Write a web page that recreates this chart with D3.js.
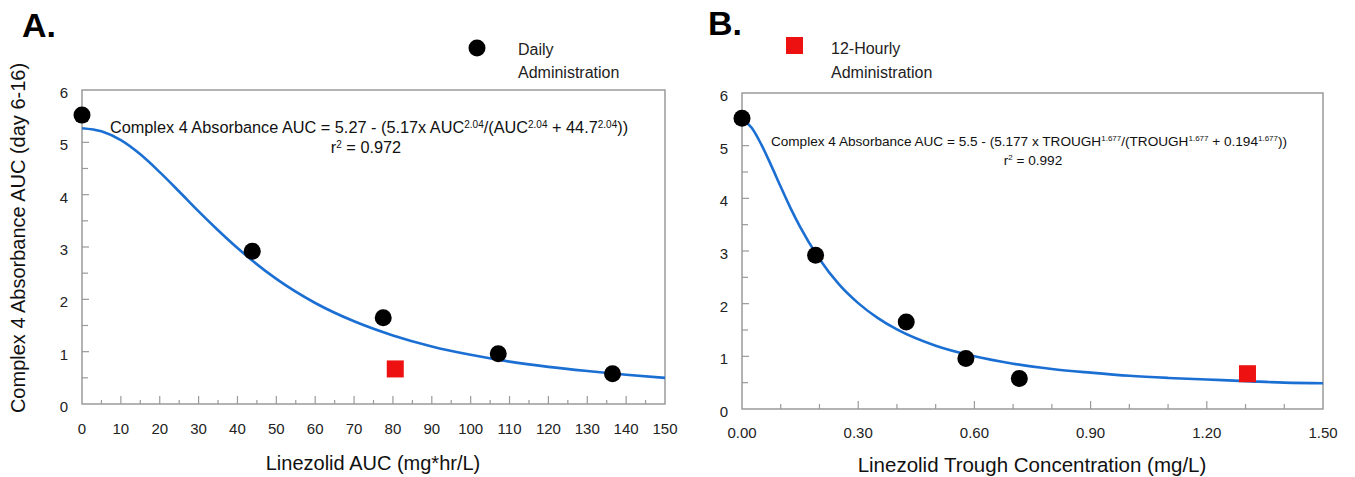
<!DOCTYPE html>
<html>
<head>
<meta charset="utf-8">
<script src="https://cdn.jsdelivr.net/npm/d3@7"></script>
<style>
  body { margin: 0; background: #fff; }
  svg { display: block; font-family: "Liberation Sans", Arial, sans-serif; }
  .tick-label { font-size: 15px; fill: #222; }
  .axis-title { font-size: 20px; fill: #111; }
  .eq-text { fill: #111; }
  .legend-text { font-size: 16px; fill: #222; }
  .panel-letter { font-size: 34px; font-weight: bold; fill: #000; }
</style>
</head>
<body>
<div id="chart"></div>
<script>
// Measured points (same patients in both panels)
var daily_auc = [0, 43.8, 77.5, 107.1, 136.5];
var daily_trough = [0, 0.19, 0.424, 0.578, 0.716];
var daily_c4 = [5.52, 2.92, 1.65, 0.96, 0.58];

var hourly12_auc = [80.6];
var hourly12_trough = [1.305];
var hourly12_c4 = [0.67];

// Fitted curves
var fit_auc_x = [0, 5, 10, 15, 20, 25, 30, 35, 40, 50, 60, 70, 80, 90, 100, 110, 120, 130, 140, 150];
var fit_auc_y = [5.27, 5.21, 5.04, 4.77, 4.43, 4.06, 3.68, 3.32, 2.98, 2.39, 1.93, 1.58, 1.31, 1.10, 0.94, 0.81, 0.71, 0.63, 0.56, 0.50];
var fit_trough_x = [0, 0.025, 0.05, 0.075, 0.1, 0.125, 0.15, 0.2, 0.25, 0.3, 0.35, 0.4, 0.5, 0.6, 0.7, 0.8, 0.9, 1.0, 1.1, 1.2, 1.3, 1.4, 1.5];
var fit_trough_y = [5.5, 5.34, 5.02, 4.63, 4.22, 3.82, 3.46, 2.85, 2.37, 2.01, 1.73, 1.51, 1.20, 1.00, 0.86, 0.76, 0.69, 0.63, 0.59, 0.56, 0.53, 0.50, 0.49];

// Tick values
var y_major_ticks = [0, 1, 2, 3, 4, 5, 6];
var y_minor_ticks = [0.5, 1.5, 2.5, 3.5, 4.5, 5.5];
var auc_major_ticks = [0, 10, 20, 30, 40, 50, 60, 70, 80, 90, 100, 110, 120, 130, 140, 150];
var auc_minor_ticks = [5, 15, 25, 35, 45, 55, 65, 75, 85, 95, 105, 115, 125, 135, 145];
var trough_major_ticks = [0, 0.3, 0.6, 0.9, 1.2, 1.5];
var trough_minor_ticks = [0.1, 0.2, 0.4, 0.5, 0.7, 0.8, 1.0, 1.1, 1.3, 1.4];

// Texts
var y_title = "Complex 4 Absorbance AUC (day 6-16)";
var eq_auc = [["Complex 4 Absorbance AUC = 5.27 - (5.17x AUC", 0], ["2.04", 1], ["/(AUC", 0], ["2.04", 1], [" + 44.7", 0], ["2.04", 1], ["))", 0]];
var eq_trough = [["Complex 4 Absorbance AUC = 5.5 - (5.177 x TROUGH", 0], ["1.677", 1], ["/(TROUGH", 0], ["1.677", 1], [" + 0.194", 0], ["1.677", 1], ["))", 0]];

(function () {
  "use strict";

  var W = 1355, H = 477;
  var svg = d3.select("#chart").append("svg").attr("width", W).attr("height", H);

  var curve_color = "#1b6fd3";
  var frame_color = "#9a9a9a";

  //////////////////////////////////////////////////////////////////////////
  //
  // Draw one panel
  //
  function drawPanel(p) {
    var x = d3.scaleLinear().domain(p.x_domain).range([p.left, p.right]);
    var y = d3.scaleLinear().domain([0, 6]).range([p.bottom, p.top]);
    var g = svg.append("g");

    // Frame
    g.append("rect")
      .attr("x", p.left).attr("y", p.top)
      .attr("width", p.right - p.left).attr("height", p.bottom - p.top)
      .attr("fill", "none").attr("stroke", frame_color).attr("stroke-width", 1.5);

    // Y ticks (inside)
    g.selectAll(".ymaj").data(y_major_ticks.filter(function (d) { return d > 0 && d < 6; }))
      .enter().append("line")
      .attr("x1", p.left).attr("x2", p.left + 7)
      .attr("y1", function (d) { return y(d); }).attr("y2", function (d) { return y(d); })
      .attr("stroke", frame_color).attr("stroke-width", 1.2);
    g.selectAll(".ymin").data(y_minor_ticks)
      .enter().append("line")
      .attr("x1", p.left).attr("x2", p.left + 6)
      .attr("y1", function (d) { return y(d); }).attr("y2", function (d) { return y(d); })
      .attr("stroke", frame_color).attr("stroke-width", 1.2);
    g.selectAll(".ylab").data(y_major_ticks)
      .enter().append("text")
      .attr("class", "tick-label")
      .attr("x", p.left - 14)
      .attr("y", function (d) { return y(d) + 8; })
      .attr("text-anchor", "end")
      .text(function (d) { return d; });

    // X ticks (inside)
    g.selectAll(".xmaj").data(p.x_major.slice(1, -1))
      .enter().append("line")
      .attr("x1", function (d) { return x(d); }).attr("x2", function (d) { return x(d); })
      .attr("y1", p.bottom).attr("y2", p.bottom - 8)
      .attr("stroke", frame_color).attr("stroke-width", 1.2);
    g.selectAll(".xmin").data(p.x_minor)
      .enter().append("line")
      .attr("x1", function (d) { return x(d); }).attr("x2", function (d) { return x(d); })
      .attr("y1", p.bottom).attr("y2", p.bottom - p.minor_len)
      .attr("stroke", frame_color).attr("stroke-width", 1.2);
    g.selectAll(".xlab").data(p.x_major)
      .enter().append("text")
      .attr("class", "tick-label")
      .attr("x", function (d) { return x(d); })
      .attr("y", p.bottom + p.xlab_dy)
      .attr("text-anchor", "middle")
      .text(p.x_format);

    // Axis title
    g.append("text")
      .attr("class", "axis-title")
      .attr("x", p.x_title_pos[0]).attr("y", p.x_title_pos[1])
      .attr("text-anchor", "middle")
      .style("font-size", p.x_title_size)
      .text(p.x_title);

    // Fit curve
    var line = d3.line()
      .x(function (d) { return x(d[0]); })
      .y(function (d) { return y(d[1]); })
      .curve(d3.curveMonotoneX);
    g.append("path")
      .datum(d3.zip(p.fit_x, p.fit_y))
      .attr("d", line)
      .attr("fill", "none").attr("stroke", curve_color).attr("stroke-width", 2.6);

    // Equation, with superscripts
    var sup_size = Math.round(p.eq_size * 0.6) + "px";
    var eq = g.append("text")
      .attr("class", "eq-text")
      .attr("x", p.eq_pos[0]).attr("y", p.eq_pos[1])
      .attr("text-anchor", "middle")
      .style("font-size", p.eq_size + "px");
    var prev_sup = 0;
    p.eq.forEach(function (part) {
      var dy = part[1] ? -5 : (prev_sup ? 5 : 0);
      eq.append("tspan")
        .attr("dy", dy)
        .style("font-size", part[1] ? sup_size : null)
        .text(part[0]);
      prev_sup = part[1];
    });
    var r2 = g.append("text")
      .attr("class", "eq-text")
      .attr("x", p.r2_pos[0]).attr("y", p.r2_pos[1])
      .attr("text-anchor", "middle")
      .style("font-size", p.eq_size + "px");
    r2.append("tspan").text("r");
    r2.append("tspan").attr("dy", -5).style("font-size", sup_size).text("2");
    r2.append("tspan").attr("dy", 5).text(" = " + p.r2);

    // Points
    g.selectAll(".dot").data(d3.zip(p.daily_x, daily_c4))
      .enter().append("circle")
      .attr("cx", function (d) { return x(d[0]); })
      .attr("cy", function (d) { return y(d[1]); })
      .attr("r", 8.5)
      .attr("fill", "#000");
    var sq = 17;
    g.selectAll(".sq").data(d3.zip(p.hourly_x, hourly12_c4))
      .enter().append("rect")
      .attr("x", function (d) { return x(d[0]) - sq / 2; })
      .attr("y", function (d) { return y(d[1]) - sq / 2; })
      .attr("width", sq).attr("height", sq)
      .attr("fill", "#ee1111");

    // Panel letter
    g.append("text")
      .attr("class", "panel-letter")
      .attr("x", p.letter_pos[0]).attr("y", p.letter_pos[1])
      .text(p.letter);
  }

  //////////////////////////////////////////////////////////////////////////
  //
  // Panels
  //
  drawPanel({
    x_domain: [0, 150], left: 82, right: 665, top: 90, bottom: 404,
    x_major: auc_major_ticks, x_minor: auc_minor_ticks, minor_len: 4,
    x_format: function (d) { return d; }, xlab_dy: 30,
    x_title: "Linezolid AUC (mg*hr/L)", x_title_pos: [373, 470], x_title_size: "20px",
    fit_x: fit_auc_x, fit_y: fit_auc_y,
    eq: eq_auc, eq_size: 16.3, eq_pos: [369, 133], r2: "0.972", r2_pos: [366, 153],
    daily_x: daily_auc, hourly_x: hourly12_auc,
    letter: "A.", letter_pos: [22, 37]
  });

  drawPanel({
    x_domain: [0, 1.5], left: 742, right: 1323, top: 93, bottom: 409,
    x_major: trough_major_ticks, x_minor: trough_minor_ticks, minor_len: 5,
    x_format: d3.format(".2f"), xlab_dy: 29,
    x_title: "Linezolid Trough Concentration (mg/L)", x_title_pos: [1032, 472], x_title_size: "20.5px",
    fit_x: fit_trough_x, fit_y: fit_trough_y,
    eq: eq_trough, eq_size: 13.6, eq_pos: [1029, 146], r2: "0.992", r2_pos: [1033, 165],
    daily_x: daily_trough, hourly_x: hourly12_trough,
    letter: "B.", letter_pos: [708, 35]
  });

  // Y title on panel A
  svg.append("text")
    .attr("class", "axis-title")
    .attr("transform", "translate(25,238) rotate(-90)")
    .attr("text-anchor", "middle")
    .text(y_title);

  //////////////////////////////////////////////////////////////////////////
  //
  // Legends
  //
  svg.append("circle").attr("cx", 477).attr("cy", 48).attr("r", 8.5).attr("fill", "#000");
  svg.append("text").attr("class", "legend-text").attr("x", 518).attr("y", 55).text("Daily");
  svg.append("text").attr("class", "legend-text").attr("x", 518).attr("y", 78).text("Administration");

  svg.append("rect").attr("x", 786).attr("y", 37).attr("width", 17).attr("height", 17).attr("fill", "#ee1111");
  svg.append("text").attr("class", "legend-text").attr("x", 831).attr("y", 54).text("12-Hourly");
  svg.append("text").attr("class", "legend-text").attr("x", 831).attr("y", 78).text("Administration");
})();
</script>
</body>
</html>
